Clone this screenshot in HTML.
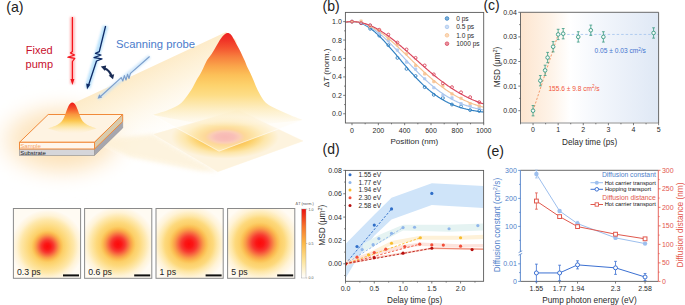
<!DOCTYPE html><html><head><meta charset="utf-8"><style>html,body{margin:0;padding:0;background:#fff;width:685px;height:305px;overflow:hidden}svg{display:block;font-family:"Liberation Sans",sans-serif}</style></head><body><svg width="685" height="305" viewBox="0 0 685 305" font-family='"Liberation Sans", sans-serif'>
<rect width="685" height="305" fill="#fff"/>
<defs>
<radialGradient id="glow" cx="0.5" cy="0.5" r="0.5"><stop offset="0" stop-color="#fcdca8" stop-opacity="1"/><stop offset="0.6" stop-color="#fde6c2" stop-opacity="0.85"/><stop offset="1" stop-color="#fff" stop-opacity="0"/></radialGradient>
<linearGradient id="beam" gradientUnits="userSpaceOnUse" x1="150" y1="67" x2="185" y2="140"><stop offset="0" stop-color="#fdebc8" stop-opacity="1"/><stop offset="0.3" stop-color="#fef3dc" stop-opacity="0.9"/><stop offset="1" stop-color="#fff" stop-opacity="0"/></linearGradient>
<linearGradient id="peak" gradientUnits="userSpaceOnUse" x1="0" y1="33" x2="0" y2="127"><stop offset="0.000" stop-color="#ee2220" stop-opacity="1"/><stop offset="0.074" stop-color="#f03326" stop-opacity="1"/><stop offset="0.160" stop-color="#f45430" stop-opacity="1"/><stop offset="0.255" stop-color="#f7803e" stop-opacity="1"/><stop offset="0.351" stop-color="#faa44a" stop-opacity="1"/><stop offset="0.447" stop-color="#fcc058" stop-opacity="1"/><stop offset="0.553" stop-color="#fdd26c" stop-opacity="1"/><stop offset="0.660" stop-color="#fddd86" stop-opacity="1"/><stop offset="0.766" stop-color="#fde8ae" stop-opacity="0.95"/><stop offset="0.872" stop-color="#fdf0cc" stop-opacity="0.7"/><stop offset="1.000" stop-color="#fef6e4" stop-opacity="0"/></linearGradient>
<linearGradient id="speak" gradientUnits="userSpaceOnUse" x1="0" y1="102.4" x2="0" y2="134"><stop offset="0" stop-color="#ee1818"/><stop offset="0.18" stop-color="#f44c28"/><stop offset="0.38" stop-color="#f9963e"/><stop offset="0.58" stop-color="#fcc64e"/><stop offset="0.74" stop-color="#fde08e" stop-opacity="0.9"/><stop offset="1" stop-color="#fef0d2" stop-opacity="0"/></linearGradient>
<radialGradient id="proj" gradientUnits="userSpaceOnUse" cx="225" cy="137" r="54" gradientTransform="translate(225 137) scale(1 0.4) translate(-225 -137)"><stop offset="0" stop-color="#f28484"/><stop offset="0.17" stop-color="#f48e8a"/><stop offset="0.27" stop-color="#f8a888"/><stop offset="0.37" stop-color="#fbbc52"/><stop offset="0.52" stop-color="#fcd068"/><stop offset="0.74" stop-color="#fde6aa"/><stop offset="1" stop-color="#fdf3de"/></radialGradient>
<filter id="blur2" x="-20%" y="-20%" width="140%" height="140%"><feGaussianBlur stdDeviation="2"/></filter>
<filter id="blur8" x="-50%" y="-50%" width="200%" height="200%"><feGaussianBlur stdDeviation="8"/></filter>
<filter id="blur1" x="-50%" y="-50%" width="200%" height="200%"><feGaussianBlur stdDeviation="1.3"/></filter>
<clipPath id="ldiam"><polygon points="153.5,134.3 238,110 303,141 217.8,171.7"/></clipPath>
</defs>
<ellipse cx="62" cy="140" rx="78" ry="46" fill="url(#glow)" filter="url(#blur8)"/>
<polygon points="72,104 226,32 236,40 252,100 302,120 220,152 120,156 95,142" fill="url(#beam)"/>
<polygon points="96,140 153.5,134.3 217.8,171.7 200,171 130,157" fill="#fdf0d4" opacity="0.75" filter="url(#blur2)"/>
<polygon points="153.5,134.3 238,110 303,141 217.8,171.7" fill="#fdf4e2" stroke="#fffaf0" stroke-width="0.8"/>
<rect clip-path="url(#ldiam)" x="150" y="105" width="160" height="70" fill="url(#proj)"/>
<polygon points="153,115 226,100 302.6,120 219,151.2" fill="#fffaf0" opacity="0.45"/>
<polyline points="153,115 219,151.2 302.6,120" fill="none" stroke="#fff" stroke-width="0.8" opacity="0.7"/>
<path d="M153,115 C155.5,114.2 163.7,111.7 168,110 C172.3,108.3 175.9,106.7 178.6,105 C181.3,103.3 181.9,102.5 184,100 C186.1,97.5 189.1,93.3 191.2,90 C193.3,86.7 195.1,82.6 196.6,80 C198.1,77.4 198.9,76.5 200,74.5 C201.1,72.5 202.1,70.4 203.3,68 C204.5,65.6 205.7,62.3 207.1,60 C208.5,57.7 210.2,56.1 211.6,54 C213.0,51.9 214.3,49.6 215.5,47.5 C216.7,45.4 217.8,43.4 219,41.5 C220.2,39.6 221.3,37.6 222.6,36.2 C223.9,34.8 225.6,33.3 227,33 C228.4,32.7 229.6,33.3 230.8,34.4 C232.0,35.5 233.0,37.8 234,39.5 C235.0,41.2 235.7,42.8 236.6,44.4 C237.5,46.0 238.6,47.8 239.4,49.4 C240.2,51.0 240.9,52.4 241.7,54.2 C242.5,56.0 243.4,57.8 244.4,60 C245.4,62.2 246.6,65.5 247.4,67.3 C248.2,69.1 248.3,68.9 249.3,71 C250.3,73.1 252.0,76.8 253.4,80 C254.8,83.2 255.9,86.7 257.6,90 C259.3,93.3 261.5,97.5 263.4,100 C265.3,102.5 266.2,103.3 268.8,105 C271.4,106.7 275.2,108.3 278.7,110 C282.2,111.7 286.0,113.3 290,115 C294.0,116.7 300.5,119.2 302.6,120 C275,123 250,126 225,127 C200,124 175,119 153,115 Z" fill="url(#peak)"/>
<polygon points="19.5,142.3 48.2,114.5 122.7,114.5 94.5,142.3" fill="#fef3e2" stroke="#f08a3a" stroke-width="1"/>
<polygon points="94.5,149 122.7,121.5 122.7,128 94.5,155.5" fill="#a6a6ae" stroke="#8a8a90" stroke-width="0.5"/>
<polygon points="94.5,142.3 122.7,114.5 122.7,121.5 94.5,149" fill="#d8cbad" stroke="#f08a3a" stroke-width="1"/>
<rect x="19.5" y="149" width="75" height="6.5" fill="#d6d6da" stroke="#8a8a8a" stroke-width="0.6"/>
<rect x="19.5" y="142.3" width="75" height="6.7" fill="#fff6ec" stroke="#f08a3a" stroke-width="1"/>
<text x="20.2" y="147.9" font-size="6.1" fill="#f6a464" text-anchor="start" >Sample</text>
<text x="20.2" y="154.5" font-size="6.0" fill="#1a1a1a" text-anchor="start" >Substrate</text>
<path d="M48,128.5 C49.3,128.0 53.8,126.6 56,125.5 C58.2,124.4 59.8,123.2 61,122 C62.2,120.8 62.8,119.8 63.5,118.5 C64.2,117.2 64.7,115.9 65.2,114.5 C65.8,113.1 66.2,111.4 66.8,110 C67.3,108.6 67.9,107.1 68.5,106 C69.1,104.9 69.7,104.0 70.3,103.4 C70.9,102.8 71.6,102.4 72.3,102.4 C73.0,102.4 73.7,102.8 74.3,103.4 C74.9,104.0 75.5,104.9 76.1,106 C76.7,107.1 77.2,108.6 77.8,110 C78.3,111.4 78.9,113.1 79.4,114.5 C80.0,115.9 80.4,117.2 81.1,118.5 C81.8,119.8 82.3,120.8 83.6,122 C84.8,123.2 86.4,124.4 88.6,125.5 C90.8,126.6 95.3,128.0 96.6,128.5 L72.3,136 Z" fill="url(#speak)"/>
<rect x="70" y="17" width="4.8" height="67" fill="#ff8080" opacity="0.55" filter="url(#blur1)"/>
<polyline points="72.4,17 72.4,51.5 70.4,53 74.6,55 67.8,57.2 74.8,58.4 72.4,61.5 72.4,80" fill="none" stroke="#f5121a" stroke-width="1.2" stroke-linejoin="round"/>
<polygon points="70.4,79 74.4,79 72.4,85" fill="#f0141c"/>
<text x="25.8" y="54.4" font-size="11" fill="#c8102e" text-anchor="start" >Fixed</text>
<text x="25.6" y="68.4" font-size="11" fill="#c8102e" text-anchor="start" >pump</text>
<line x1="105.6" y1="26" x2="87.5" y2="88" stroke="#8fd0fa" stroke-width="5.5" opacity="0.6" filter="url(#blur1)"/>
<polyline points="105.6,26 99.3,51.6 95.5,53.4 101,55 94,57.6 102,58.8 96.5,61 88.6,85" fill="none" stroke="#0e2a66" stroke-width="1.3" stroke-linejoin="round"/>
<polygon points="86.2,83.4 90.4,84.6 87,89.6" fill="#0e2a66"/>
<path d="M104,68.2 Q109.8,70.2 111.2,75.6" fill="none" stroke="#1a2c55" stroke-width="2.2"/>
<polygon points="100.8,66.6 106.2,65.4 105,71" fill="#1a2c55"/>
<polygon points="113,79.2 108.6,75.4 114.2,74.2" fill="#1a2c55"/>
<line x1="149.6" y1="56.5" x2="98" y2="98.5" stroke="#c4e2fa" stroke-width="4" opacity="0.75" filter="url(#blur1)"/>
<polyline points="149.6,56.5 130.4,73.4 129,78.5 127.6,74.2 126,80 124.4,75.6 122.8,81 121.2,77.6 100.5,96.5" fill="none" stroke="#7c9ecb" stroke-width="1.15" stroke-linejoin="round"/>
<polygon points="97.6,98.8 99.2,94.2 102.2,97.4" fill="#7c9ecb"/>
<text x="116" y="48" font-size="11.3" fill="#4b7ccb" text-anchor="start" >Scanning probe</text>
<text x="6.2" y="11.9" font-size="14.2" fill="#222" text-anchor="start" >(a)</text>
<defs>
<radialGradient id="hm0" cx="0.5" cy="0.5" r="0.5"><stop offset="0.000" stop-color="#fd0a0a"/><stop offset="0.086" stop-color="#fb1616"/><stop offset="0.172" stop-color="#f73a30"/><stop offset="0.241" stop-color="#f76a40"/><stop offset="0.310" stop-color="#f99a48"/><stop offset="0.378" stop-color="#fbbd52"/><stop offset="0.439" stop-color="#fccf68"/><stop offset="0.533" stop-color="#fdd97c"/><stop offset="0.72" stop-color="#fee7a8"/><stop offset="0.85" stop-color="#fff3d6"/><stop offset="1" stop-color="#fffaf2"/></radialGradient>
<radialGradient id="hm1" cx="0.5" cy="0.5" r="0.5"><stop offset="0.000" stop-color="#fd0a0a"/><stop offset="0.093" stop-color="#fb1616"/><stop offset="0.186" stop-color="#f73a30"/><stop offset="0.260" stop-color="#f76a40"/><stop offset="0.335" stop-color="#f99a48"/><stop offset="0.409" stop-color="#fbbd52"/><stop offset="0.474" stop-color="#fccf68"/><stop offset="0.577" stop-color="#fdd97c"/><stop offset="0.72" stop-color="#fee7a8"/><stop offset="0.85" stop-color="#fff3d6"/><stop offset="1" stop-color="#fffaf2"/></radialGradient>
<radialGradient id="hm2" cx="0.5" cy="0.5" r="0.5"><stop offset="0.000" stop-color="#fd0a0a"/><stop offset="0.100" stop-color="#fb1616"/><stop offset="0.200" stop-color="#f73a30"/><stop offset="0.280" stop-color="#f76a40"/><stop offset="0.360" stop-color="#f99a48"/><stop offset="0.440" stop-color="#fbbd52"/><stop offset="0.510" stop-color="#fccf68"/><stop offset="0.620" stop-color="#fdd97c"/><stop offset="0.72" stop-color="#fee7a8"/><stop offset="0.85" stop-color="#fff3d6"/><stop offset="1" stop-color="#fffaf2"/></radialGradient>
<radialGradient id="hm3" cx="0.5" cy="0.5" r="0.5"><stop offset="0.000" stop-color="#fd0a0a"/><stop offset="0.100" stop-color="#fb1616"/><stop offset="0.200" stop-color="#f73a30"/><stop offset="0.280" stop-color="#f76a40"/><stop offset="0.360" stop-color="#f99a48"/><stop offset="0.440" stop-color="#fbbd52"/><stop offset="0.510" stop-color="#fccf68"/><stop offset="0.620" stop-color="#fdd97c"/><stop offset="0.72" stop-color="#fee7a8"/><stop offset="0.85" stop-color="#fff3d6"/><stop offset="1" stop-color="#fffaf2"/></radialGradient>
<linearGradient id="cbar" x1="0" x2="0" y1="1" y2="0"><stop offset="0" stop-color="#ffffff"/><stop offset="0.25" stop-color="#fde49a"/><stop offset="0.5" stop-color="#fcb948"/><stop offset="0.75" stop-color="#f6742c"/><stop offset="1" stop-color="#ea1010"/></linearGradient>
</defs>
<clipPath id="tc0"><rect x="13.4" y="208.5" width="67.2" height="69.8"/></clipPath>
<rect x="13.4" y="208.5" width="67.2" height="69.8" fill="#fffbf3"/>
<circle clip-path="url(#tc0)" cx="47.4" cy="246.4" r="36.5" fill="url(#hm0)"/>
<rect x="13.4" y="208.5" width="67.2" height="69.8" fill="none" stroke="#8a8a8a" stroke-width="1"/>
<text x="17" y="275.3" font-size="8.7" fill="#222" text-anchor="start" >0.3 ps</text>
<rect x="63.0" y="274.4" width="16" height="2" fill="#111"/>
<clipPath id="tc1"><rect x="84.6" y="208.5" width="67.2" height="69.8"/></clipPath>
<rect x="84.6" y="208.5" width="67.2" height="69.8" fill="#fffbf3"/>
<circle clip-path="url(#tc1)" cx="118" cy="244.2" r="37.5" fill="url(#hm1)"/>
<rect x="84.6" y="208.5" width="67.2" height="69.8" fill="none" stroke="#8a8a8a" stroke-width="1"/>
<text x="88.2" y="275.3" font-size="8.7" fill="#222" text-anchor="start" >0.6 ps</text>
<rect x="134.2" y="274.4" width="16" height="2" fill="#111"/>
<clipPath id="tc2"><rect x="156.0" y="208.5" width="67.2" height="69.8"/></clipPath>
<rect x="156.0" y="208.5" width="67.2" height="69.8" fill="#fffbf3"/>
<circle clip-path="url(#tc2)" cx="189" cy="244" r="39" fill="url(#hm2)"/>
<rect x="156.0" y="208.5" width="67.2" height="69.8" fill="none" stroke="#8a8a8a" stroke-width="1"/>
<text x="159.6" y="275.3" font-size="8.7" fill="#222" text-anchor="start" >1 ps</text>
<rect x="205.6" y="274.4" width="16" height="2" fill="#111"/>
<clipPath id="tc3"><rect x="227.6" y="208.5" width="67.2" height="69.8"/></clipPath>
<rect x="227.6" y="208.5" width="67.2" height="69.8" fill="#fffbf3"/>
<circle clip-path="url(#tc3)" cx="260" cy="243" r="40" fill="url(#hm3)"/>
<rect x="227.6" y="208.5" width="67.2" height="69.8" fill="none" stroke="#8a8a8a" stroke-width="1"/>
<text x="231.2" y="275.3" font-size="8.7" fill="#222" text-anchor="start" >5 ps</text>
<rect x="277.2" y="274.4" width="16" height="2" fill="#111"/>
<rect x="301.6" y="209" width="4.4" height="69" fill="url(#cbar)" stroke="#999" stroke-width="0.4"/>
<line x1="306" y1="209.2" x2="307.3" y2="209.2" stroke="#777" stroke-width="0.4"/>
<text x="308.5" y="210.5" font-size="3.6" fill="#555" text-anchor="start" >1.0</text>
<line x1="306" y1="243.5" x2="307.3" y2="243.5" stroke="#777" stroke-width="0.4"/>
<text x="308.5" y="244.8" font-size="3.6" fill="#555" text-anchor="start" >0.5</text>
<line x1="306" y1="278" x2="307.3" y2="278" stroke="#777" stroke-width="0.4"/>
<text x="308.5" y="279.3" font-size="3.6" fill="#555" text-anchor="start" >0.0</text>
<text x="295.6" y="205.2" font-size="3.8" fill="#555" text-anchor="start" >&#916;T (norm.)</text>
<g>
<polyline points="345.4,22.53 346.06,22.35 346.72,22.2 347.38,22.06 348.03,21.95 348.69,21.84 349.35,21.76 350.01,21.7 350.67,21.65 351.33,21.63 351.99,21.62 352.64,21.63 353.3,21.65 353.96,21.7 354.62,21.76 355.28,21.84 355.94,21.95 356.6,22.06 357.25,22.2 357.91,22.35 358.57,22.53 359.23,22.72 359.89,22.92 360.55,23.15 361.21,23.39 361.86,23.65 362.52,23.93 363.18,24.22 363.84,24.53 364.5,24.86 365.16,25.2 365.82,25.56 366.47,25.94 367.13,26.33 367.79,26.73 368.45,27.16 369.11,27.59 369.77,28.05 370.43,28.51 371.08,28.99 371.74,29.49 372.4,30 373.06,30.52 373.72,31.05 374.38,31.6 375.04,32.16 375.69,32.73 376.35,33.32 377.01,33.92 377.67,34.52 378.33,35.14 378.99,35.77 379.65,36.41 380.3,37.06 380.96,37.72 381.62,38.39 382.28,39.07 382.94,39.75 383.6,40.45 384.26,41.15 384.91,41.86 385.57,42.57 386.23,43.3 386.89,44.03 387.55,44.77 388.21,45.51 388.87,46.25 389.52,47.01 390.18,47.76 390.84,48.53 391.5,49.29 392.16,50.06 392.82,50.83 393.48,51.61 394.13,52.39 394.79,53.17 395.45,53.95 396.11,54.74 396.77,55.52 397.43,56.31 398.09,57.09 398.74,57.88 399.4,58.67 400.06,59.46 400.72,60.24 401.38,61.03 402.04,61.81 402.7,62.59 403.35,63.38 404.01,64.15 404.67,64.93 405.33,65.7 405.99,66.48 406.65,67.24 407.31,68.01 407.96,68.77 408.62,69.53 409.28,70.28 409.94,71.03 410.6,71.77 411.26,72.51 411.92,73.25 412.57,73.97 413.23,74.7 413.89,75.42 414.55,76.13 415.21,76.84 415.87,77.54 416.53,78.23 417.18,78.92 417.84,79.6 418.5,80.27 419.16,80.94 419.82,81.6 420.48,82.26 421.14,82.9 421.79,83.54 422.45,84.18 423.11,84.8 423.77,85.42 424.43,86.03 425.09,86.63 425.75,87.22 426.4,87.81 427.06,88.39 427.72,88.96 428.38,89.52 429.04,90.07 429.7,90.62 430.36,91.16 431.01,91.69 431.67,92.21 432.33,92.72 432.99,93.23 433.65,93.73 434.31,94.22 434.97,94.7 435.62,95.17 436.28,95.64 436.94,96.09 437.6,96.54 438.26,96.98 438.92,97.41 439.58,97.84 440.23,98.26 440.89,98.66 441.55,99.07 442.21,99.46 442.87,99.84 443.53,100.22 444.19,100.59 444.84,100.95 445.5,101.31 446.16,101.66 446.82,102 447.48,102.33 448.14,102.66 448.8,102.98 449.45,103.29 450.11,103.59 450.77,103.89 451.43,104.18 452.09,104.46 452.75,104.74 453.41,105.01 454.06,105.28 454.72,105.54 455.38,105.79 456.04,106.03 456.7,106.27 457.36,106.51 458.02,106.74 458.67,106.96 459.33,107.18 459.99,107.39 460.65,107.59 461.31,107.79 461.97,107.99 462.63,108.18 463.28,108.36 463.94,108.54 464.6,108.71 465.26,108.88 465.92,109.05 466.58,109.21 467.24,109.36 467.89,109.52 468.55,109.66 469.21,109.8 469.87,109.94 470.53,110.08 471.19,110.21 471.85,110.33 472.5,110.46 473.16,110.58 473.82,110.69 474.48,110.8 475.14,110.91 475.8,111.02 476.46,111.12 477.11,111.22 477.77,111.31 478.43,111.4 479.09,111.49 479.75,111.58 480.41,111.66 481.07,111.74 481.72,111.82 482.38,111.9 483.04,111.97 483.7,112.04" fill="none" stroke="#2f7fc1" stroke-width="1.15"/>
<polyline points="345.4,22.35 346.06,22.21 346.72,22.09 347.38,21.98 348.03,21.88 348.69,21.8 349.35,21.73 350.01,21.68 350.67,21.65 351.33,21.62 351.99,21.62 352.64,21.62 353.3,21.65 353.96,21.68 354.62,21.73 355.28,21.8 355.94,21.88 356.6,21.98 357.25,22.09 357.91,22.21 358.57,22.35 359.23,22.51 359.89,22.67 360.55,22.86 361.21,23.05 361.86,23.26 362.52,23.49 363.18,23.73 363.84,23.98 364.5,24.24 365.16,24.52 365.82,24.82 366.47,25.12 367.13,25.44 367.79,25.77 368.45,26.12 369.11,26.48 369.77,26.85 370.43,27.23 371.08,27.62 371.74,28.03 372.4,28.45 373.06,28.88 373.72,29.32 374.38,29.77 375.04,30.23 375.69,30.71 376.35,31.19 377.01,31.69 377.67,32.19 378.33,32.71 378.99,33.23 379.65,33.76 380.3,34.31 380.96,34.86 381.62,35.42 382.28,35.99 382.94,36.57 383.6,37.15 384.26,37.74 384.91,38.35 385.57,38.95 386.23,39.57 386.89,40.19 387.55,40.82 388.21,41.45 388.87,42.09 389.52,42.74 390.18,43.39 390.84,44.05 391.5,44.71 392.16,45.38 392.82,46.05 393.48,46.72 394.13,47.4 394.79,48.08 395.45,48.77 396.11,49.46 396.77,50.15 397.43,50.84 398.09,51.54 398.74,52.24 399.4,52.94 400.06,53.64 400.72,54.35 401.38,55.05 402.04,55.76 402.7,56.47 403.35,57.17 404.01,57.88 404.67,58.59 405.33,59.3 405.99,60 406.65,60.71 407.31,61.41 407.96,62.12 408.62,62.82 409.28,63.52 409.94,64.22 410.6,64.92 411.26,65.62 411.92,66.31 412.57,67 413.23,67.69 413.89,68.37 414.55,69.06 415.21,69.74 415.87,70.41 416.53,71.08 417.18,71.75 417.84,72.42 418.5,73.08 419.16,73.74 419.82,74.39 420.48,75.04 421.14,75.68 421.79,76.32 422.45,76.95 423.11,77.58 423.77,78.2 424.43,78.82 425.09,79.44 425.75,80.05 426.4,80.65 427.06,81.24 427.72,81.84 428.38,82.42 429.04,83 429.7,83.58 430.36,84.14 431.01,84.71 431.67,85.26 432.33,85.81 432.99,86.36 433.65,86.89 434.31,87.42 434.97,87.95 435.62,88.47 436.28,88.98 436.94,89.49 437.6,89.98 438.26,90.48 438.92,90.96 439.58,91.44 440.23,91.91 440.89,92.38 441.55,92.84 442.21,93.29 442.87,93.74 443.53,94.18 444.19,94.61 444.84,95.04 445.5,95.46 446.16,95.87 446.82,96.28 447.48,96.68 448.14,97.08 448.8,97.46 449.45,97.84 450.11,98.22 450.77,98.59 451.43,98.95 452.09,99.31 452.75,99.66 453.41,100 454.06,100.34 454.72,100.67 455.38,100.99 456.04,101.31 456.7,101.62 457.36,101.93 458.02,102.23 458.67,102.53 459.33,102.81 459.99,103.1 460.65,103.38 461.31,103.65 461.97,103.92 462.63,104.18 463.28,104.43 463.94,104.68 464.6,104.93 465.26,105.17 465.92,105.4 466.58,105.63 467.24,105.86 467.89,106.08 468.55,106.29 469.21,106.5 469.87,106.71 470.53,106.91 471.19,107.1 471.85,107.3 472.5,107.48 473.16,107.67 473.82,107.84 474.48,108.02 475.14,108.19 475.8,108.35 476.46,108.51 477.11,108.67 477.77,108.83 478.43,108.98 479.09,109.12 479.75,109.26 480.41,109.4 481.07,109.54 481.72,109.67 482.38,109.8 483.04,109.92 483.7,110.04" fill="none" stroke="#a9c6ee" stroke-width="1.15"/>
<polyline points="345.4,22.22 346.06,22.11 346.72,22.01 347.38,21.91 348.03,21.84 348.69,21.77 349.35,21.71 350.01,21.67 350.67,21.64 351.33,21.62 351.99,21.62 352.64,21.62 353.3,21.64 353.96,21.67 354.62,21.71 355.28,21.77 355.94,21.84 356.6,21.91 357.25,22.01 357.91,22.11 358.57,22.22 359.23,22.35 359.89,22.49 360.55,22.64 361.21,22.8 361.86,22.98 362.52,23.16 363.18,23.36 363.84,23.57 364.5,23.79 365.16,24.02 365.82,24.26 366.47,24.52 367.13,24.78 367.79,25.06 368.45,25.34 369.11,25.64 369.77,25.95 370.43,26.27 371.08,26.6 371.74,26.94 372.4,27.29 373.06,27.65 373.72,28.01 374.38,28.39 375.04,28.78 375.69,29.18 376.35,29.59 377.01,30 377.67,30.43 378.33,30.86 378.99,31.3 379.65,31.75 380.3,32.21 380.96,32.68 381.62,33.16 382.28,33.64 382.94,34.13 383.6,34.63 384.26,35.13 384.91,35.65 385.57,36.17 386.23,36.69 386.89,37.23 387.55,37.77 388.21,38.31 388.87,38.86 389.52,39.42 390.18,39.98 390.84,40.55 391.5,41.12 392.16,41.7 392.82,42.29 393.48,42.87 394.13,43.47 394.79,44.06 395.45,44.66 396.11,45.27 396.77,45.88 397.43,46.49 398.09,47.1 398.74,47.72 399.4,48.34 400.06,48.97 400.72,49.59 401.38,50.22 402.04,50.85 402.7,51.48 403.35,52.12 404.01,52.76 404.67,53.39 405.33,54.03 405.99,54.67 406.65,55.31 407.31,55.95 407.96,56.6 408.62,57.24 409.28,57.88 409.94,58.52 410.6,59.17 411.26,59.81 411.92,60.45 412.57,61.09 413.23,61.73 413.89,62.37 414.55,63.01 415.21,63.64 415.87,64.28 416.53,64.91 417.18,65.54 417.84,66.17 418.5,66.8 419.16,67.43 419.82,68.05 420.48,68.67 421.14,69.29 421.79,69.91 422.45,70.52 423.11,71.13 423.77,71.74 424.43,72.34 425.09,72.94 425.75,73.54 426.4,74.13 427.06,74.72 427.72,75.31 428.38,75.89 429.04,76.47 429.7,77.05 430.36,77.62 431.01,78.18 431.67,78.75 432.33,79.3 432.99,79.86 433.65,80.41 434.31,80.95 434.97,81.49 435.62,82.03 436.28,82.56 436.94,83.08 437.6,83.6 438.26,84.12 438.92,84.63 439.58,85.14 440.23,85.64 440.89,86.13 441.55,86.62 442.21,87.11 442.87,87.59 443.53,88.06 444.19,88.53 444.84,89 445.5,89.46 446.16,89.91 446.82,90.36 447.48,90.8 448.14,91.24 448.8,91.67 449.45,92.1 450.11,92.52 450.77,92.94 451.43,93.35 452.09,93.75 452.75,94.15 453.41,94.54 454.06,94.93 454.72,95.32 455.38,95.69 456.04,96.07 456.7,96.43 457.36,96.8 458.02,97.15 458.67,97.5 459.33,97.85 459.99,98.19 460.65,98.52 461.31,98.85 461.97,99.18 462.63,99.5 463.28,99.81 463.94,100.12 464.6,100.43 465.26,100.73 465.92,101.02 466.58,101.31 467.24,101.59 467.89,101.87 468.55,102.15 469.21,102.42 469.87,102.68 470.53,102.94 471.19,103.2 471.85,103.45 472.5,103.7 473.16,103.94 473.82,104.17 474.48,104.41 475.14,104.63 475.8,104.86 476.46,105.08 477.11,105.29 477.77,105.5 478.43,105.71 479.09,105.91 479.75,106.11 480.41,106.31 481.07,106.5 481.72,106.68 482.38,106.87 483.04,107.05 483.7,107.22" fill="none" stroke="#f7c18f" stroke-width="1.15"/>
<polyline points="345.4,22.13 346.06,22.03 346.72,21.95 347.38,21.87 348.03,21.8 348.69,21.75 349.35,21.7 350.01,21.66 350.67,21.64 351.33,21.62 351.99,21.62 352.64,21.62 353.3,21.64 353.96,21.66 354.62,21.7 355.28,21.75 355.94,21.8 356.6,21.87 357.25,21.95 357.91,22.03 358.57,22.13 359.23,22.24 359.89,22.36 360.55,22.49 361.21,22.62 361.86,22.77 362.52,22.93 363.18,23.1 363.84,23.28 364.5,23.46 365.16,23.66 365.82,23.87 366.47,24.09 367.13,24.31 367.79,24.55 368.45,24.79 369.11,25.05 369.77,25.31 370.43,25.58 371.08,25.86 371.74,26.16 372.4,26.45 373.06,26.76 373.72,27.08 374.38,27.4 375.04,27.74 375.69,28.08 376.35,28.43 377.01,28.79 377.67,29.16 378.33,29.53 378.99,29.91 379.65,30.3 380.3,30.7 380.96,31.1 381.62,31.52 382.28,31.93 382.94,32.36 383.6,32.79 384.26,33.23 384.91,33.68 385.57,34.13 386.23,34.59 386.89,35.06 387.55,35.53 388.21,36 388.87,36.49 389.52,36.98 390.18,37.47 390.84,37.97 391.5,38.47 392.16,38.98 392.82,39.5 393.48,40.02 394.13,40.54 394.79,41.07 395.45,41.6 396.11,42.14 396.77,42.68 397.43,43.22 398.09,43.77 398.74,44.32 399.4,44.88 400.06,45.44 400.72,46 401.38,46.56 402.04,47.13 402.7,47.7 403.35,48.27 404.01,48.85 404.67,49.42 405.33,50 405.99,50.58 406.65,51.16 407.31,51.75 407.96,52.33 408.62,52.92 409.28,53.51 409.94,54.1 410.6,54.69 411.26,55.28 411.92,55.87 412.57,56.46 413.23,57.05 413.89,57.64 414.55,58.24 415.21,58.83 415.87,59.42 416.53,60.01 417.18,60.6 417.84,61.19 418.5,61.78 419.16,62.37 419.82,62.96 420.48,63.55 421.14,64.13 421.79,64.72 422.45,65.3 423.11,65.88 423.77,66.46 424.43,67.04 425.09,67.62 425.75,68.19 426.4,68.76 427.06,69.33 427.72,69.9 428.38,70.46 429.04,71.03 429.7,71.59 430.36,72.14 431.01,72.7 431.67,73.25 432.33,73.8 432.99,74.35 433.65,74.89 434.31,75.43 434.97,75.96 435.62,76.5 436.28,77.03 436.94,77.55 437.6,78.08 438.26,78.59 438.92,79.11 439.58,79.62 440.23,80.13 440.89,80.63 441.55,81.13 442.21,81.63 442.87,82.12 443.53,82.61 444.19,83.1 444.84,83.58 445.5,84.05 446.16,84.52 446.82,84.99 447.48,85.45 448.14,85.91 448.8,86.37 449.45,86.82 450.11,87.26 450.77,87.7 451.43,88.14 452.09,88.57 452.75,89 453.41,89.42 454.06,89.84 454.72,90.26 455.38,90.67 456.04,91.07 456.7,91.47 457.36,91.87 458.02,92.26 458.67,92.64 459.33,93.03 459.99,93.4 460.65,93.78 461.31,94.15 461.97,94.51 462.63,94.87 463.28,95.22 463.94,95.57 464.6,95.92 465.26,96.26 465.92,96.59 466.58,96.92 467.24,97.25 467.89,97.57 468.55,97.89 469.21,98.21 469.87,98.51 470.53,98.82 471.19,99.12 471.85,99.41 472.5,99.71 473.16,99.99 473.82,100.28 474.48,100.55 475.14,100.83 475.8,101.1 476.46,101.36 477.11,101.62 477.77,101.88 478.43,102.13 479.09,102.38 479.75,102.63 480.41,102.87 481.07,103.11 481.72,103.34 482.38,103.57 483.04,103.79 483.7,104.01" fill="none" stroke="#d9475e" stroke-width="1.15"/>
<circle cx="351.99" cy="21.62" r="1.45" fill="none" stroke="#2f7fc1" stroke-width="0.9"/>
<circle cx="361.07" cy="23.18" r="1.45" fill="none" stroke="#2f7fc1" stroke-width="0.9"/>
<circle cx="370.16" cy="28.8" r="1.45" fill="none" stroke="#2f7fc1" stroke-width="0.9"/>
<circle cx="379.25" cy="35.64" r="1.45" fill="none" stroke="#2f7fc1" stroke-width="0.9"/>
<circle cx="388.34" cy="45.19" r="1.45" fill="none" stroke="#2f7fc1" stroke-width="0.9"/>
<circle cx="397.43" cy="57.91" r="1.45" fill="none" stroke="#2f7fc1" stroke-width="0.9"/>
<circle cx="406.52" cy="68.89" r="1.45" fill="none" stroke="#2f7fc1" stroke-width="0.9"/>
<circle cx="415.6" cy="76.01" r="1.45" fill="none" stroke="#2f7fc1" stroke-width="0.9"/>
<circle cx="424.69" cy="87.16" r="1.45" fill="none" stroke="#2f7fc1" stroke-width="0.9"/>
<circle cx="433.78" cy="94.81" r="1.45" fill="none" stroke="#2f7fc1" stroke-width="0.9"/>
<circle cx="442.87" cy="98.02" r="1.45" fill="none" stroke="#2f7fc1" stroke-width="0.9"/>
<circle cx="451.96" cy="104.52" r="1.45" fill="none" stroke="#2f7fc1" stroke-width="0.9"/>
<circle cx="461.05" cy="106.47" r="1.45" fill="none" stroke="#2f7fc1" stroke-width="0.9"/>
<circle cx="470.13" cy="110.08" r="1.45" fill="none" stroke="#2f7fc1" stroke-width="0.9"/>
<circle cx="479.22" cy="111" r="1.45" fill="none" stroke="#2f7fc1" stroke-width="0.9"/>
<rect x="350.39" y="20.02" width="3.2" height="3.2" rx="0.8" fill="#a9c6ee" opacity="0.85"/>
<rect x="359.47" y="20.92" width="3.2" height="3.2" rx="0.8" fill="#a9c6ee" opacity="0.85"/>
<rect x="368.56" y="24.12" width="3.2" height="3.2" rx="0.8" fill="#a9c6ee" opacity="0.85"/>
<rect x="377.65" y="31.76" width="3.2" height="3.2" rx="0.8" fill="#a9c6ee" opacity="0.85"/>
<rect x="386.74" y="39.09" width="3.2" height="3.2" rx="0.8" fill="#a9c6ee" opacity="0.85"/>
<rect x="395.83" y="48.61" width="3.2" height="3.2" rx="0.8" fill="#a9c6ee" opacity="0.85"/>
<rect x="404.92" y="60.58" width="3.2" height="3.2" rx="0.8" fill="#a9c6ee" opacity="0.85"/>
<rect x="414" y="67.59" width="3.2" height="3.2" rx="0.8" fill="#a9c6ee" opacity="0.85"/>
<rect x="423.09" y="77.13" width="3.2" height="3.2" rx="0.8" fill="#a9c6ee" opacity="0.85"/>
<rect x="432.18" y="86.13" width="3.2" height="3.2" rx="0.8" fill="#a9c6ee" opacity="0.85"/>
<rect x="441.27" y="93.87" width="3.2" height="3.2" rx="0.8" fill="#a9c6ee" opacity="0.85"/>
<rect x="450.36" y="96.29" width="3.2" height="3.2" rx="0.8" fill="#a9c6ee" opacity="0.85"/>
<rect x="459.45" y="102.04" width="3.2" height="3.2" rx="0.8" fill="#a9c6ee" opacity="0.85"/>
<rect x="468.53" y="104.38" width="3.2" height="3.2" rx="0.8" fill="#a9c6ee" opacity="0.85"/>
<rect x="477.62" y="106.15" width="3.2" height="3.2" rx="0.8" fill="#a9c6ee" opacity="0.85"/>
<rect x="350.39" y="20.02" width="3.2" height="3.2" rx="0.8" fill="#f7c18f" opacity="0.85"/>
<rect x="359.47" y="19.62" width="3.2" height="3.2" rx="0.8" fill="#f7c18f" opacity="0.85"/>
<rect x="368.56" y="24.93" width="3.2" height="3.2" rx="0.8" fill="#f7c18f" opacity="0.85"/>
<rect x="377.65" y="28.77" width="3.2" height="3.2" rx="0.8" fill="#f7c18f" opacity="0.85"/>
<rect x="386.74" y="37.02" width="3.2" height="3.2" rx="0.8" fill="#f7c18f" opacity="0.85"/>
<rect x="395.83" y="43.28" width="3.2" height="3.2" rx="0.8" fill="#f7c18f" opacity="0.85"/>
<rect x="404.92" y="52.19" width="3.2" height="3.2" rx="0.8" fill="#f7c18f" opacity="0.85"/>
<rect x="414" y="63.91" width="3.2" height="3.2" rx="0.8" fill="#f7c18f" opacity="0.85"/>
<rect x="423.09" y="72.32" width="3.2" height="3.2" rx="0.8" fill="#f7c18f" opacity="0.85"/>
<rect x="432.18" y="79.96" width="3.2" height="3.2" rx="0.8" fill="#f7c18f" opacity="0.85"/>
<rect x="441.27" y="84.27" width="3.2" height="3.2" rx="0.8" fill="#f7c18f" opacity="0.85"/>
<rect x="450.36" y="92.31" width="3.2" height="3.2" rx="0.8" fill="#f7c18f" opacity="0.85"/>
<rect x="459.45" y="96.66" width="3.2" height="3.2" rx="0.8" fill="#f7c18f" opacity="0.85"/>
<rect x="468.53" y="101.92" width="3.2" height="3.2" rx="0.8" fill="#f7c18f" opacity="0.85"/>
<rect x="477.62" y="104.33" width="3.2" height="3.2" rx="0.8" fill="#f7c18f" opacity="0.85"/>
<circle cx="351.99" cy="21.62" r="1.45" fill="none" stroke="#d9475e" stroke-width="0.9"/>
<circle cx="361.07" cy="23.15" r="1.45" fill="none" stroke="#d9475e" stroke-width="0.9"/>
<circle cx="370.16" cy="25.16" r="1.45" fill="none" stroke="#d9475e" stroke-width="0.9"/>
<circle cx="379.25" cy="29.76" r="1.45" fill="none" stroke="#d9475e" stroke-width="0.9"/>
<circle cx="388.34" cy="34.61" r="1.45" fill="none" stroke="#d9475e" stroke-width="0.9"/>
<circle cx="397.43" cy="42.55" r="1.45" fill="none" stroke="#d9475e" stroke-width="0.9"/>
<circle cx="406.52" cy="49.47" r="1.45" fill="none" stroke="#d9475e" stroke-width="0.9"/>
<circle cx="415.6" cy="57.87" r="1.45" fill="none" stroke="#d9475e" stroke-width="0.9"/>
<circle cx="424.69" cy="65.46" r="1.45" fill="none" stroke="#d9475e" stroke-width="0.9"/>
<circle cx="433.78" cy="74.36" r="1.45" fill="none" stroke="#d9475e" stroke-width="0.9"/>
<circle cx="442.87" cy="83.36" r="1.45" fill="none" stroke="#d9475e" stroke-width="0.9"/>
<circle cx="451.96" cy="87.16" r="1.45" fill="none" stroke="#d9475e" stroke-width="0.9"/>
<circle cx="461.05" cy="92.29" r="1.45" fill="none" stroke="#d9475e" stroke-width="0.9"/>
<circle cx="470.13" cy="97.14" r="1.45" fill="none" stroke="#d9475e" stroke-width="0.9"/>
<circle cx="479.22" cy="102.18" r="1.45" fill="none" stroke="#d9475e" stroke-width="0.9"/>
<rect x="345.4" y="12.4" width="138.3" height="110.6" fill="none" stroke="#5a5a5a" stroke-width="0.9"/>
<line x1="343.2" y1="113.78" x2="345.4" y2="113.78" stroke="#5a5a5a" stroke-width="0.8"/>
<text x="341.8" y="116.28" font-size="7" fill="#2a2a2a" text-anchor="end" >0.0</text>
<line x1="344.1" y1="104.57" x2="345.4" y2="104.57" stroke="#5a5a5a" stroke-width="0.8"/>
<line x1="343.2" y1="95.35" x2="345.4" y2="95.35" stroke="#5a5a5a" stroke-width="0.8"/>
<text x="341.8" y="97.85" font-size="7" fill="#2a2a2a" text-anchor="end" >0.2</text>
<line x1="344.1" y1="86.13" x2="345.4" y2="86.13" stroke="#5a5a5a" stroke-width="0.8"/>
<line x1="343.2" y1="76.92" x2="345.4" y2="76.92" stroke="#5a5a5a" stroke-width="0.8"/>
<text x="341.8" y="79.42" font-size="7" fill="#2a2a2a" text-anchor="end" >0.4</text>
<line x1="344.1" y1="67.7" x2="345.4" y2="67.7" stroke="#5a5a5a" stroke-width="0.8"/>
<line x1="343.2" y1="58.48" x2="345.4" y2="58.48" stroke="#5a5a5a" stroke-width="0.8"/>
<text x="341.8" y="60.98" font-size="7" fill="#2a2a2a" text-anchor="end" >0.6</text>
<line x1="344.1" y1="49.27" x2="345.4" y2="49.27" stroke="#5a5a5a" stroke-width="0.8"/>
<line x1="343.2" y1="40.05" x2="345.4" y2="40.05" stroke="#5a5a5a" stroke-width="0.8"/>
<text x="341.8" y="42.55" font-size="7" fill="#2a2a2a" text-anchor="end" >0.8</text>
<line x1="344.1" y1="30.83" x2="345.4" y2="30.83" stroke="#5a5a5a" stroke-width="0.8"/>
<line x1="343.2" y1="21.62" x2="345.4" y2="21.62" stroke="#5a5a5a" stroke-width="0.8"/>
<text x="341.8" y="24.12" font-size="7" fill="#2a2a2a" text-anchor="end" >1.0</text>
<line x1="351.99" y1="123.0" x2="351.99" y2="125.2" stroke="#5a5a5a" stroke-width="0.8"/>
<text x="351.99" y="132.6" font-size="7" fill="#2a2a2a" text-anchor="middle" >0</text>
<line x1="365.16" y1="123.0" x2="365.16" y2="124.3" stroke="#5a5a5a" stroke-width="0.8"/>
<line x1="378.33" y1="123.0" x2="378.33" y2="125.2" stroke="#5a5a5a" stroke-width="0.8"/>
<text x="378.33" y="132.6" font-size="7" fill="#2a2a2a" text-anchor="middle" >200</text>
<line x1="391.5" y1="123.0" x2="391.5" y2="124.3" stroke="#5a5a5a" stroke-width="0.8"/>
<line x1="404.67" y1="123.0" x2="404.67" y2="125.2" stroke="#5a5a5a" stroke-width="0.8"/>
<text x="404.67" y="132.6" font-size="7" fill="#2a2a2a" text-anchor="middle" >400</text>
<line x1="417.84" y1="123.0" x2="417.84" y2="124.3" stroke="#5a5a5a" stroke-width="0.8"/>
<line x1="431.01" y1="123.0" x2="431.01" y2="125.2" stroke="#5a5a5a" stroke-width="0.8"/>
<text x="431.01" y="132.6" font-size="7" fill="#2a2a2a" text-anchor="middle" >600</text>
<line x1="444.19" y1="123.0" x2="444.19" y2="124.3" stroke="#5a5a5a" stroke-width="0.8"/>
<line x1="457.36" y1="123.0" x2="457.36" y2="125.2" stroke="#5a5a5a" stroke-width="0.8"/>
<text x="457.36" y="132.6" font-size="7" fill="#2a2a2a" text-anchor="middle" >800</text>
<line x1="470.53" y1="123.0" x2="470.53" y2="124.3" stroke="#5a5a5a" stroke-width="0.8"/>
<line x1="483.7" y1="123.0" x2="483.7" y2="125.2" stroke="#5a5a5a" stroke-width="0.8"/>
<text x="483.7" y="132.6" font-size="7" fill="#2a2a2a" text-anchor="middle" >1000</text>
<text x="414.3" y="144.1" font-size="8.1" fill="#2a2a2a" text-anchor="middle" >Position (nm)</text>
<text transform="translate(329.2,68) rotate(-90)" font-size="8.1" fill="#2a2a2a" text-anchor="middle">&#916;<tspan font-style="italic">T</tspan> (norm.)</text>
<circle cx="447" cy="18.5" r="1.8" fill="#2f7fc1" fill-opacity="0.6" stroke="#2f7fc1" stroke-width="0.8"/>
<text x="456.2" y="20.8" font-size="6.6" fill="#2a2a2a" text-anchor="start" >0 ps</text>
<circle cx="447" cy="26.9" r="1.8" fill="#a9c6ee" fill-opacity="0.6" stroke="#a9c6ee" stroke-width="0.8"/>
<text x="456.2" y="29.2" font-size="6.6" fill="#2a2a2a" text-anchor="start" >0.5 ps</text>
<circle cx="447" cy="35.3" r="1.8" fill="#f7c18f" fill-opacity="0.6" stroke="#f7c18f" stroke-width="0.8"/>
<text x="456.2" y="37.6" font-size="6.6" fill="#2a2a2a" text-anchor="start" >1.0 ps</text>
<circle cx="447" cy="43.7" r="1.8" fill="#d9475e" fill-opacity="0.6" stroke="#d9475e" stroke-width="0.8"/>
<text x="456.2" y="46" font-size="6.6" fill="#2a2a2a" text-anchor="start" >1000 ps</text>
</g>
<defs><linearGradient id="cbg" x1="0" x2="1" y1="0" y2="0"><stop offset="0" stop-color="#fde5cf"/><stop offset="0.22" stop-color="#fef3e8"/><stop offset="0.36" stop-color="#ffffff"/><stop offset="0.55" stop-color="#f4f7fc"/><stop offset="1" stop-color="#dfe8f5"/></linearGradient></defs>
<rect x="520.5" y="12.3" width="138.1" height="110.7" fill="url(#cbg)"/>
<line x1="533.05" y1="110.7" x2="558.16" y2="34.44" stroke="#f39a6a" stroke-width="1" stroke-dasharray="2.2,1.6"/>
<line x1="558.16" y1="34.44" x2="658.6" y2="34.44" stroke="#a9c7ee" stroke-width="0.9" stroke-dasharray="2.5,2"/>
<line x1="533.05" y1="105.53" x2="533.05" y2="115.87" stroke="#3a9a82" stroke-width="0.8"/>
<line x1="531.65" y1="105.53" x2="534.45" y2="105.53" stroke="#3a9a82" stroke-width="0.8"/>
<line x1="531.65" y1="115.87" x2="534.45" y2="115.87" stroke="#3a9a82" stroke-width="0.8"/>
<circle cx="533.05" cy="110.7" r="1.8" fill="#f6fbf9" stroke="#3a9a82" stroke-width="0.9"/>
<line x1="540.34" y1="75.52" x2="540.34" y2="85.85" stroke="#3a9a82" stroke-width="0.8"/>
<line x1="538.94" y1="75.52" x2="541.74" y2="75.52" stroke="#3a9a82" stroke-width="0.8"/>
<line x1="538.94" y1="85.85" x2="541.74" y2="85.85" stroke="#3a9a82" stroke-width="0.8"/>
<circle cx="540.34" cy="80.69" r="1.8" fill="#f6fbf9" stroke="#3a9a82" stroke-width="0.9"/>
<line x1="545.11" y1="65.19" x2="545.11" y2="75.52" stroke="#3a9a82" stroke-width="0.8"/>
<line x1="543.71" y1="65.19" x2="546.51" y2="65.19" stroke="#3a9a82" stroke-width="0.8"/>
<line x1="543.71" y1="75.52" x2="546.51" y2="75.52" stroke="#3a9a82" stroke-width="0.8"/>
<circle cx="545.11" cy="70.36" r="1.8" fill="#f6fbf9" stroke="#3a9a82" stroke-width="0.9"/>
<line x1="547.62" y1="52.4" x2="547.62" y2="62.73" stroke="#3a9a82" stroke-width="0.8"/>
<line x1="546.22" y1="52.4" x2="549.02" y2="52.4" stroke="#3a9a82" stroke-width="0.8"/>
<line x1="546.22" y1="62.73" x2="549.02" y2="62.73" stroke="#3a9a82" stroke-width="0.8"/>
<circle cx="547.62" cy="57.56" r="1.8" fill="#f6fbf9" stroke="#3a9a82" stroke-width="0.9"/>
<line x1="553.14" y1="41.57" x2="553.14" y2="51.91" stroke="#3a9a82" stroke-width="0.8"/>
<line x1="551.74" y1="41.57" x2="554.54" y2="41.57" stroke="#3a9a82" stroke-width="0.8"/>
<line x1="551.74" y1="51.91" x2="554.54" y2="51.91" stroke="#3a9a82" stroke-width="0.8"/>
<circle cx="553.14" cy="46.74" r="1.8" fill="#f6fbf9" stroke="#3a9a82" stroke-width="0.9"/>
<line x1="558.16" y1="29.27" x2="558.16" y2="39.61" stroke="#3a9a82" stroke-width="0.8"/>
<line x1="556.76" y1="29.27" x2="559.56" y2="29.27" stroke="#3a9a82" stroke-width="0.8"/>
<line x1="556.76" y1="39.61" x2="559.56" y2="39.61" stroke="#3a9a82" stroke-width="0.8"/>
<circle cx="558.16" cy="34.44" r="1.8" fill="#f6fbf9" stroke="#3a9a82" stroke-width="0.9"/>
<line x1="563.19" y1="28.54" x2="563.19" y2="38.87" stroke="#3a9a82" stroke-width="0.8"/>
<line x1="561.79" y1="28.54" x2="564.59" y2="28.54" stroke="#3a9a82" stroke-width="0.8"/>
<line x1="561.79" y1="38.87" x2="564.59" y2="38.87" stroke="#3a9a82" stroke-width="0.8"/>
<circle cx="563.19" cy="33.7" r="1.8" fill="#f6fbf9" stroke="#3a9a82" stroke-width="0.9"/>
<line x1="578.25" y1="31.73" x2="578.25" y2="42.07" stroke="#3a9a82" stroke-width="0.8"/>
<line x1="576.85" y1="31.73" x2="579.65" y2="31.73" stroke="#3a9a82" stroke-width="0.8"/>
<line x1="576.85" y1="42.07" x2="579.65" y2="42.07" stroke="#3a9a82" stroke-width="0.8"/>
<circle cx="578.25" cy="36.9" r="1.8" fill="#f6fbf9" stroke="#3a9a82" stroke-width="0.9"/>
<line x1="590.81" y1="25.09" x2="590.81" y2="35.42" stroke="#3a9a82" stroke-width="0.8"/>
<line x1="589.41" y1="25.09" x2="592.21" y2="25.09" stroke="#3a9a82" stroke-width="0.8"/>
<line x1="589.41" y1="35.42" x2="592.21" y2="35.42" stroke="#3a9a82" stroke-width="0.8"/>
<circle cx="590.81" cy="30.26" r="1.8" fill="#f6fbf9" stroke="#3a9a82" stroke-width="0.9"/>
<line x1="603.36" y1="31.73" x2="603.36" y2="42.07" stroke="#3a9a82" stroke-width="0.8"/>
<line x1="601.96" y1="31.73" x2="604.76" y2="31.73" stroke="#3a9a82" stroke-width="0.8"/>
<line x1="601.96" y1="42.07" x2="604.76" y2="42.07" stroke="#3a9a82" stroke-width="0.8"/>
<circle cx="603.36" cy="36.9" r="1.8" fill="#f6fbf9" stroke="#3a9a82" stroke-width="0.9"/>
<line x1="653.58" y1="27.8" x2="653.58" y2="38.13" stroke="#3a9a82" stroke-width="0.8"/>
<line x1="652.18" y1="27.8" x2="654.98" y2="27.8" stroke="#3a9a82" stroke-width="0.8"/>
<line x1="652.18" y1="38.13" x2="654.98" y2="38.13" stroke="#3a9a82" stroke-width="0.8"/>
<circle cx="653.58" cy="32.96" r="1.8" fill="#f6fbf9" stroke="#3a9a82" stroke-width="0.9"/>
<line x1="520.5" y1="123.0" x2="658.6" y2="123.0" stroke="#b4b4b4" stroke-width="1.3"/>
<polyline points="520.5,123.0 520.5,12.3 658.6,12.3 658.6,123.0" fill="none" stroke="#5a5a5a" stroke-width="0.9"/>
<line x1="518.3" y1="110.7" x2="520.5" y2="110.7" stroke="#5a5a5a" stroke-width="0.8"/>
<text x="516.9" y="113.2" font-size="7" fill="#2a2a2a" text-anchor="end" >0.00</text>
<line x1="519.2" y1="98.4" x2="520.5" y2="98.4" stroke="#5a5a5a" stroke-width="0.8"/>
<line x1="518.3" y1="86.1" x2="520.5" y2="86.1" stroke="#5a5a5a" stroke-width="0.8"/>
<text x="516.9" y="88.6" font-size="7" fill="#2a2a2a" text-anchor="end" >0.01</text>
<line x1="519.2" y1="73.8" x2="520.5" y2="73.8" stroke="#5a5a5a" stroke-width="0.8"/>
<line x1="518.3" y1="61.5" x2="520.5" y2="61.5" stroke="#5a5a5a" stroke-width="0.8"/>
<text x="516.9" y="64" font-size="7" fill="#2a2a2a" text-anchor="end" >0.02</text>
<line x1="519.2" y1="49.2" x2="520.5" y2="49.2" stroke="#5a5a5a" stroke-width="0.8"/>
<line x1="518.3" y1="36.9" x2="520.5" y2="36.9" stroke="#5a5a5a" stroke-width="0.8"/>
<text x="516.9" y="39.4" font-size="7" fill="#2a2a2a" text-anchor="end" >0.03</text>
<line x1="519.2" y1="24.6" x2="520.5" y2="24.6" stroke="#5a5a5a" stroke-width="0.8"/>
<line x1="518.3" y1="12.3" x2="520.5" y2="12.3" stroke="#5a5a5a" stroke-width="0.8"/>
<text x="516.9" y="14.8" font-size="7" fill="#2a2a2a" text-anchor="end" >0.04</text>
<line x1="520.5" y1="123.0" x2="520.5" y2="124.3" stroke="#5a5a5a" stroke-width="0.8"/>
<line x1="533.05" y1="123.0" x2="533.05" y2="125.2" stroke="#5a5a5a" stroke-width="0.8"/>
<text x="533.05" y="132.2" font-size="7" fill="#2a2a2a" text-anchor="middle" >0</text>
<line x1="545.61" y1="123.0" x2="545.61" y2="124.3" stroke="#5a5a5a" stroke-width="0.8"/>
<line x1="558.16" y1="123.0" x2="558.16" y2="125.2" stroke="#5a5a5a" stroke-width="0.8"/>
<text x="558.16" y="132.2" font-size="7" fill="#2a2a2a" text-anchor="middle" >1</text>
<line x1="570.72" y1="123.0" x2="570.72" y2="124.3" stroke="#5a5a5a" stroke-width="0.8"/>
<line x1="583.27" y1="123.0" x2="583.27" y2="125.2" stroke="#5a5a5a" stroke-width="0.8"/>
<text x="583.27" y="132.2" font-size="7" fill="#2a2a2a" text-anchor="middle" >2</text>
<line x1="595.83" y1="123.0" x2="595.83" y2="124.3" stroke="#5a5a5a" stroke-width="0.8"/>
<line x1="608.38" y1="123.0" x2="608.38" y2="125.2" stroke="#5a5a5a" stroke-width="0.8"/>
<text x="608.38" y="132.2" font-size="7" fill="#2a2a2a" text-anchor="middle" >3</text>
<line x1="620.94" y1="123.0" x2="620.94" y2="124.3" stroke="#5a5a5a" stroke-width="0.8"/>
<line x1="633.49" y1="123.0" x2="633.49" y2="125.2" stroke="#5a5a5a" stroke-width="0.8"/>
<text x="633.49" y="132.2" font-size="7" fill="#2a2a2a" text-anchor="middle" >4</text>
<line x1="646.05" y1="123.0" x2="646.05" y2="124.3" stroke="#5a5a5a" stroke-width="0.8"/>
<line x1="658.6" y1="123.0" x2="658.6" y2="125.2" stroke="#5a5a5a" stroke-width="0.8"/>
<text x="658.6" y="132.2" font-size="7" fill="#2a2a2a" text-anchor="middle" >5</text>
<text x="589.6" y="144.6" font-size="8.2" fill="#2a2a2a" text-anchor="middle" >Delay time (ps)</text>
<text transform="translate(500.4,67) rotate(-90)" font-size="8.2" fill="#2a2a2a" text-anchor="middle">MSD (&#956;m<tspan font-size="5.5" dy="-3">2</tspan><tspan dy="3">)</tspan></text>
<text x="548.4" y="91" font-size="6.6" fill="#f0553a">155.6 &#177; 9.8 cm<tspan font-size="4.6" dy="-2.6">2</tspan><tspan dy="2.6">/s</tspan></text>
<text x="594.6" y="53.4" font-size="6.6" fill="#3f73cf">0.05 &#177; 0.03 cm<tspan font-size="4.6" dy="-2.6">2</tspan><tspan dy="2.6">/s</tspan></text>
<clipPath id="dclip"><rect x="345.5" y="170.4" width="138.1" height="110.9"/></clipPath>
<g clip-path="url(#dclip)">
<polygon points="345.5,243.94 357.01,232.27 374.27,214.76 391.53,197.72 431.81,183.24 483.6,186.04 483.6,208.11 431.81,205.07 391.53,219.43 374.27,235.77 357.01,259.12 345.5,278.26" fill="#cfe4f9" fill-opacity="1.0"/>
<polygon points="362.76,243.94 380.02,234.61 403.04,224.68 449.08,224.68 483.6,223.52 483.6,230.52 449.08,231.69 403.04,230.52 380.02,242.78 362.76,252.12" fill="#e5f3f2" fill-opacity="1.0"/>
<polygon points="345.5,260.29 368.52,252.7 391.53,241.03 420.3,235.77 460.58,235.77 483.6,234.84 483.6,239.04 460.58,239.86 420.3,239.86 391.53,245.11 368.52,256.79 345.5,266.12" fill="#fef1d8" fill-opacity="1.0"/>
<polygon points="345.5,261.45 374.27,250.95 403.04,245.11 420.3,242.54 460.58,244.18 483.6,243.94 483.6,247.21 460.58,247.45 420.3,246.05 403.04,248.61 374.27,255.03 345.5,266.12" fill="#fde3dc" fill-opacity="1.0"/>
<polygon points="345.5,262.62 374.27,256.79 403.04,252.35 431.81,247.33 483.6,248.15 483.6,250.01 431.81,249.2 403.04,254.22 374.27,258.89 345.5,264.96" fill="#fcd4c8" fill-opacity="1.0"/>
<line x1="345.5" y1="263.79" x2="391.53" y2="208.92" stroke="#2f6ec8" stroke-width="0.9" stroke-dasharray="2.4,1.6"/>
<line x1="345.5" y1="263.79" x2="403.04" y2="227.6" stroke="#8fb6ea" stroke-width="0.9" stroke-dasharray="2.4,1.6"/>
<line x1="345.5" y1="263.79" x2="420.3" y2="237.76" stroke="#f8bd2e" stroke-width="0.9" stroke-dasharray="2.4,1.6"/>
<line x1="345.5" y1="263.79" x2="419.73" y2="244.18" stroke="#f2503a" stroke-width="0.9" stroke-dasharray="2.4,1.6"/>
<line x1="345.5" y1="263.79" x2="431.81" y2="248.26" stroke="#b8100f" stroke-width="0.9" stroke-dasharray="2.4,1.6"/>
<line x1="431.81" y1="248.26" x2="483.6" y2="249.2" stroke="#e8705a" stroke-width="0.8"/>
<circle cx="345.5" cy="263.79" r="1.6" fill="#2f6ec8"/>
<circle cx="357.01" cy="246.51" r="1.6" fill="#2f6ec8"/>
<circle cx="374.27" cy="225.03" r="1.6" fill="#2f6ec8"/>
<circle cx="391.53" cy="208.92" r="1.6" fill="#2f6ec8"/>
<circle cx="431.81" cy="193.4" r="1.6" fill="#2f6ec8"/>
<circle cx="345.5" cy="263.79" r="1.6" fill="#8fb6ea"/>
<circle cx="362.19" cy="249.55" r="1.6" fill="#8fb6ea"/>
<circle cx="373.12" cy="244.64" r="1.6" fill="#8fb6ea"/>
<circle cx="378.87" cy="238.57" r="1.6" fill="#8fb6ea"/>
<circle cx="391.53" cy="233.44" r="1.6" fill="#8fb6ea"/>
<circle cx="403.04" cy="227.6" r="1.6" fill="#8fb6ea"/>
<circle cx="414.55" cy="227.25" r="1.6" fill="#8fb6ea"/>
<circle cx="449.08" cy="228.77" r="1.6" fill="#8fb6ea"/>
<circle cx="477.85" cy="225.62" r="1.6" fill="#8fb6ea"/>
<circle cx="345.5" cy="263.79" r="1.6" fill="#f8bd2e"/>
<circle cx="368.52" cy="254.8" r="1.6" fill="#f8bd2e"/>
<circle cx="391.53" cy="243.24" r="1.6" fill="#f8bd2e"/>
<circle cx="420.3" cy="237.76" r="1.6" fill="#f8bd2e"/>
<circle cx="460.58" cy="237.76" r="1.6" fill="#f8bd2e"/>
<circle cx="345.5" cy="263.79" r="1.6" fill="#f2503a"/>
<circle cx="357.01" cy="257.14" r="1.6" fill="#f2503a"/>
<circle cx="374.27" cy="252.58" r="1.6" fill="#f2503a"/>
<circle cx="385.78" cy="249.2" r="1.6" fill="#f2503a"/>
<circle cx="404.77" cy="246.51" r="1.6" fill="#f2503a"/>
<circle cx="419.73" cy="244.18" r="1.6" fill="#f2503a"/>
<circle cx="431.81" cy="244.88" r="1.6" fill="#f2503a"/>
<circle cx="443.32" cy="245.11" r="1.6" fill="#f2503a"/>
<circle cx="460.58" cy="246.16" r="1.6" fill="#f2503a"/>
<circle cx="345.5" cy="263.79" r="1.6" fill="#b8100f"/>
<circle cx="374.27" cy="257.72" r="1.6" fill="#b8100f"/>
<circle cx="403.04" cy="253.17" r="1.6" fill="#b8100f"/>
<circle cx="431.81" cy="248.26" r="1.6" fill="#b8100f"/>
<circle cx="472.09" cy="249.55" r="1.6" fill="#b8100f"/>
</g>
<rect x="345.5" y="170.4" width="138.1" height="110.9" fill="none" stroke="#5a5a5a" stroke-width="0.9"/>
<line x1="344.2" y1="275.46" x2="345.5" y2="275.46" stroke="#5a5a5a" stroke-width="0.8"/>
<line x1="343.3" y1="263.79" x2="345.5" y2="263.79" stroke="#5a5a5a" stroke-width="0.8"/>
<text x="341.9" y="266.29" font-size="7" fill="#2a2a2a" text-anchor="end" >0.00</text>
<line x1="344.2" y1="252.12" x2="345.5" y2="252.12" stroke="#5a5a5a" stroke-width="0.8"/>
<line x1="343.3" y1="240.44" x2="345.5" y2="240.44" stroke="#5a5a5a" stroke-width="0.8"/>
<text x="341.9" y="242.94" font-size="7" fill="#2a2a2a" text-anchor="end" >0.02</text>
<line x1="344.2" y1="228.77" x2="345.5" y2="228.77" stroke="#5a5a5a" stroke-width="0.8"/>
<line x1="343.3" y1="217.09" x2="345.5" y2="217.09" stroke="#5a5a5a" stroke-width="0.8"/>
<text x="341.9" y="219.59" font-size="7" fill="#2a2a2a" text-anchor="end" >0.04</text>
<line x1="344.2" y1="205.42" x2="345.5" y2="205.42" stroke="#5a5a5a" stroke-width="0.8"/>
<line x1="343.3" y1="193.75" x2="345.5" y2="193.75" stroke="#5a5a5a" stroke-width="0.8"/>
<text x="341.9" y="196.25" font-size="7" fill="#2a2a2a" text-anchor="end" >0.06</text>
<line x1="344.2" y1="182.07" x2="345.5" y2="182.07" stroke="#5a5a5a" stroke-width="0.8"/>
<line x1="343.3" y1="170.4" x2="345.5" y2="170.4" stroke="#5a5a5a" stroke-width="0.8"/>
<text x="341.9" y="172.9" font-size="7" fill="#2a2a2a" text-anchor="end" >0.08</text>
<line x1="345.5" y1="281.3" x2="345.5" y2="283.5" stroke="#5a5a5a" stroke-width="0.8"/>
<text x="345.5" y="290.5" font-size="7" fill="#2a2a2a" text-anchor="middle" >0.0</text>
<line x1="359.89" y1="281.3" x2="359.89" y2="282.6" stroke="#5a5a5a" stroke-width="0.8"/>
<line x1="374.27" y1="281.3" x2="374.27" y2="283.5" stroke="#5a5a5a" stroke-width="0.8"/>
<text x="374.27" y="290.5" font-size="7" fill="#2a2a2a" text-anchor="middle" >0.5</text>
<line x1="388.66" y1="281.3" x2="388.66" y2="282.6" stroke="#5a5a5a" stroke-width="0.8"/>
<line x1="403.04" y1="281.3" x2="403.04" y2="283.5" stroke="#5a5a5a" stroke-width="0.8"/>
<text x="403.04" y="290.5" font-size="7" fill="#2a2a2a" text-anchor="middle" >1.0</text>
<line x1="417.43" y1="281.3" x2="417.43" y2="282.6" stroke="#5a5a5a" stroke-width="0.8"/>
<line x1="431.81" y1="281.3" x2="431.81" y2="283.5" stroke="#5a5a5a" stroke-width="0.8"/>
<text x="431.81" y="290.5" font-size="7" fill="#2a2a2a" text-anchor="middle" >1.5</text>
<line x1="446.2" y1="281.3" x2="446.2" y2="282.6" stroke="#5a5a5a" stroke-width="0.8"/>
<line x1="460.58" y1="281.3" x2="460.58" y2="283.5" stroke="#5a5a5a" stroke-width="0.8"/>
<text x="460.58" y="290.5" font-size="7" fill="#2a2a2a" text-anchor="middle" >2.0</text>
<line x1="474.97" y1="281.3" x2="474.97" y2="282.6" stroke="#5a5a5a" stroke-width="0.8"/>
<text x="414.6" y="302.9" font-size="8.2" fill="#2a2a2a" text-anchor="middle" >Delay time (ps)</text>
<text transform="translate(325.3,225.2) rotate(-90)" font-size="8.3" fill="#2a2a2a" text-anchor="middle">MSD (&#956;m<tspan font-size="5.5" dy="-3">2</tspan><tspan dy="3">)</tspan></text>
<circle cx="350" cy="174.8" r="1.5" fill="#2f6ec8"/>
<text x="358.4" y="177.1" font-size="6.6" fill="#2a2a2a" text-anchor="start" >1.55 eV</text>
<circle cx="350" cy="182.45" r="1.5" fill="#8fb6ea"/>
<text x="358.4" y="184.75" font-size="6.6" fill="#2a2a2a" text-anchor="start" >1.77 eV</text>
<circle cx="350" cy="190.1" r="1.5" fill="#f8bd2e"/>
<text x="358.4" y="192.4" font-size="6.6" fill="#2a2a2a" text-anchor="start" >1.94 eV</text>
<circle cx="350" cy="197.75" r="1.5" fill="#f2503a"/>
<text x="358.4" y="200.05" font-size="6.6" fill="#2a2a2a" text-anchor="start" >2.30 eV</text>
<circle cx="350" cy="205.4" r="1.5" fill="#b8100f"/>
<text x="358.4" y="207.7" font-size="6.6" fill="#2a2a2a" text-anchor="start" >2.58 eV</text>
<line x1="520.4" y1="170.3" x2="658.3" y2="170.3" stroke="#5a5a5a" stroke-width="0.9"/>
<line x1="520.4" y1="281.4" x2="658.3" y2="281.4" stroke="#5a5a5a" stroke-width="0.9"/>
<line x1="520.4" y1="170.3" x2="520.4" y2="251.8" stroke="#4f80c9" stroke-width="0.9"/>
<line x1="520.4" y1="254.4" x2="520.4" y2="281.4" stroke="#4f80c9" stroke-width="0.9"/>
<line x1="518.6" y1="252.6" x2="522.1999999999999" y2="250.8" stroke="#4f80c9" stroke-width="0.8"/>
<line x1="518.6" y1="255.2" x2="522.1999999999999" y2="253.4" stroke="#4f80c9" stroke-width="0.8"/>
<line x1="658.3" y1="170.3" x2="658.3" y2="281.4" stroke="#e3564d" stroke-width="0.9"/>
<line x1="518.2" y1="170.4" x2="520.4" y2="170.4" stroke="#4f80c9" stroke-width="0.8"/>
<text x="516.8" y="172.9" font-size="7" fill="#4f80c9" text-anchor="end" >300</text>
<line x1="519.1" y1="184.4" x2="520.4" y2="184.4" stroke="#4f80c9" stroke-width="0.8"/>
<line x1="518.2" y1="198.4" x2="520.4" y2="198.4" stroke="#4f80c9" stroke-width="0.8"/>
<text x="516.8" y="200.9" font-size="7" fill="#4f80c9" text-anchor="end" >200</text>
<line x1="519.1" y1="212.4" x2="520.4" y2="212.4" stroke="#4f80c9" stroke-width="0.8"/>
<line x1="518.2" y1="226.4" x2="520.4" y2="226.4" stroke="#4f80c9" stroke-width="0.8"/>
<text x="516.8" y="228.9" font-size="7" fill="#4f80c9" text-anchor="end" >100</text>
<line x1="519.1" y1="240.4" x2="520.4" y2="240.4" stroke="#4f80c9" stroke-width="0.8"/>
<line x1="518.2" y1="263.8" x2="520.4" y2="263.8" stroke="#4f80c9" stroke-width="0.8"/>
<text x="516.8" y="266.3" font-size="7" fill="#4f80c9" text-anchor="end" >0.01</text>
<line x1="519.1" y1="272.6" x2="520.4" y2="272.6" stroke="#4f80c9" stroke-width="0.8"/>
<line x1="518.2" y1="281.4" x2="520.4" y2="281.4" stroke="#4f80c9" stroke-width="0.8"/>
<text x="516.8" y="283.9" font-size="7" fill="#4f80c9" text-anchor="end" >0</text>
<line x1="658.3" y1="281.4" x2="660.5" y2="281.4" stroke="#e3564d" stroke-width="0.8"/>
<text x="661.9" y="283.9" font-size="7" fill="#e3564d" text-anchor="start" >0</text>
<line x1="658.3" y1="272.14" x2="659.6" y2="272.14" stroke="#e3564d" stroke-width="0.8"/>
<line x1="658.3" y1="262.88" x2="660.5" y2="262.88" stroke="#e3564d" stroke-width="0.8"/>
<text x="661.9" y="265.38" font-size="7" fill="#e3564d" text-anchor="start" >50</text>
<line x1="658.3" y1="253.63" x2="659.6" y2="253.63" stroke="#e3564d" stroke-width="0.8"/>
<line x1="658.3" y1="244.37" x2="660.5" y2="244.37" stroke="#e3564d" stroke-width="0.8"/>
<text x="661.9" y="246.87" font-size="7" fill="#e3564d" text-anchor="start" >100</text>
<line x1="658.3" y1="235.11" x2="659.6" y2="235.11" stroke="#e3564d" stroke-width="0.8"/>
<line x1="658.3" y1="225.85" x2="660.5" y2="225.85" stroke="#e3564d" stroke-width="0.8"/>
<text x="661.9" y="228.35" font-size="7" fill="#e3564d" text-anchor="start" >150</text>
<line x1="658.3" y1="216.6" x2="659.6" y2="216.6" stroke="#e3564d" stroke-width="0.8"/>
<line x1="658.3" y1="207.34" x2="660.5" y2="207.34" stroke="#e3564d" stroke-width="0.8"/>
<text x="661.9" y="209.84" font-size="7" fill="#e3564d" text-anchor="start" >200</text>
<line x1="658.3" y1="198.08" x2="659.6" y2="198.08" stroke="#e3564d" stroke-width="0.8"/>
<line x1="658.3" y1="188.82" x2="660.5" y2="188.82" stroke="#e3564d" stroke-width="0.8"/>
<text x="661.9" y="191.32" font-size="7" fill="#e3564d" text-anchor="start" >250</text>
<line x1="658.3" y1="179.57" x2="659.6" y2="179.57" stroke="#e3564d" stroke-width="0.8"/>
<line x1="658.3" y1="170.31" x2="660.5" y2="170.31" stroke="#e3564d" stroke-width="0.8"/>
<text x="661.9" y="172.81" font-size="7" fill="#e3564d" text-anchor="start" >300</text>
<line x1="536.4" y1="281.4" x2="536.4" y2="283.6" stroke="#5a5a5a" stroke-width="0.8"/>
<text x="536.4" y="290.6" font-size="7" fill="#2a2a2a" text-anchor="middle" >1.55</text>
<line x1="559.61" y1="281.4" x2="559.61" y2="283.6" stroke="#5a5a5a" stroke-width="0.8"/>
<text x="559.61" y="290.6" font-size="7" fill="#2a2a2a" text-anchor="middle" >1.77</text>
<line x1="577.54" y1="281.4" x2="577.54" y2="283.6" stroke="#5a5a5a" stroke-width="0.8"/>
<text x="577.54" y="290.6" font-size="7" fill="#2a2a2a" text-anchor="middle" >1.94</text>
<line x1="615.52" y1="281.4" x2="615.52" y2="283.6" stroke="#5a5a5a" stroke-width="0.8"/>
<text x="615.52" y="290.6" font-size="7" fill="#2a2a2a" text-anchor="middle" >2.3</text>
<line x1="645.06" y1="281.4" x2="645.06" y2="283.6" stroke="#5a5a5a" stroke-width="0.8"/>
<text x="645.06" y="290.6" font-size="7" fill="#2a2a2a" text-anchor="middle" >2.58</text>
<text x="589.5" y="302.5" font-size="8.25" fill="#2a2a2a" text-anchor="middle" >Pump photon energy (eV)</text>
<text transform="translate(500.3,225) rotate(-90)" font-size="8.3" fill="#4f80c9" text-anchor="middle" >Diffusion constant (cm<tspan font-size="5.6" dy="-3">2</tspan><tspan dy="3">/s)</tspan></text>
<text transform="translate(683,225) rotate(-90)" font-size="8.35" fill="#e3564d" text-anchor="middle" >Diffusion distance (nm)</text>
<polyline points="536.4,174.04 559.61,211 577.54,223.6 615.52,237.88 645.06,243.59" fill="none" stroke="#9dbfee" stroke-width="1"/>
<line x1="536.4" y1="170.12" x2="536.4" y2="177.96" stroke="#9dbfee" stroke-width="0.8"/>
<line x1="535" y1="170.12" x2="537.8" y2="170.12" stroke="#9dbfee" stroke-width="0.8"/>
<line x1="535" y1="177.96" x2="537.8" y2="177.96" stroke="#9dbfee" stroke-width="0.8"/>
<circle cx="536.4" cy="174.04" r="2.2" fill="#9dbfee"/>
<line x1="559.61" y1="209.88" x2="559.61" y2="212.12" stroke="#9dbfee" stroke-width="0.8"/>
<line x1="558.21" y1="209.88" x2="561.01" y2="209.88" stroke="#9dbfee" stroke-width="0.8"/>
<line x1="558.21" y1="212.12" x2="561.01" y2="212.12" stroke="#9dbfee" stroke-width="0.8"/>
<circle cx="559.61" cy="211" r="2.2" fill="#9dbfee"/>
<line x1="577.54" y1="221.36" x2="577.54" y2="225.84" stroke="#9dbfee" stroke-width="0.8"/>
<line x1="576.14" y1="221.36" x2="578.94" y2="221.36" stroke="#9dbfee" stroke-width="0.8"/>
<line x1="576.14" y1="225.84" x2="578.94" y2="225.84" stroke="#9dbfee" stroke-width="0.8"/>
<circle cx="577.54" cy="223.6" r="2.2" fill="#9dbfee"/>
<circle cx="615.52" cy="237.88" r="2.2" fill="#9dbfee"/>
<circle cx="645.06" cy="243.59" r="2.2" fill="#9dbfee"/>
<polyline points="536.4,201.04 559.61,216.6 577.54,226.6 615.52,234.19 645.06,238.82" fill="none" stroke="#e0584d" stroke-width="1"/>
<line x1="536.4" y1="192.9" x2="536.4" y2="209.19" stroke="#e0584d" stroke-width="0.8"/>
<line x1="535" y1="192.9" x2="537.8" y2="192.9" stroke="#e0584d" stroke-width="0.8"/>
<line x1="535" y1="209.19" x2="537.8" y2="209.19" stroke="#e0584d" stroke-width="0.8"/>
<rect x="534.5" y="199.14" width="3.8" height="3.8" fill="#fff" stroke="#e0584d" stroke-width="1"/>
<rect x="557.71" y="214.7" width="3.8" height="3.8" fill="#fff" stroke="#e0584d" stroke-width="1"/>
<rect x="575.64" y="224.7" width="3.8" height="3.8" fill="#fff" stroke="#e0584d" stroke-width="1"/>
<rect x="613.62" y="232.29" width="3.8" height="3.8" fill="#fff" stroke="#e0584d" stroke-width="1"/>
<rect x="643.16" y="236.92" width="3.8" height="3.8" fill="#fff" stroke="#e0584d" stroke-width="1"/>
<polyline points="536.4,272.95 559.61,272.95 577.54,264.86 615.52,267.85 645.06,277" fill="none" stroke="#3b70d2" stroke-width="1"/>
<line x1="536.4" y1="264.15" x2="536.4" y2="281.75" stroke="#3b70d2" stroke-width="0.8"/>
<line x1="535" y1="264.15" x2="537.8" y2="264.15" stroke="#3b70d2" stroke-width="0.8"/>
<line x1="535" y1="281.75" x2="537.8" y2="281.75" stroke="#3b70d2" stroke-width="0.8"/>
<circle cx="536.4" cy="272.95" r="2" fill="#fff" stroke="#3b70d2" stroke-width="1"/>
<line x1="559.61" y1="265.21" x2="559.61" y2="280.7" stroke="#3b70d2" stroke-width="0.8"/>
<line x1="558.21" y1="265.21" x2="561.01" y2="265.21" stroke="#3b70d2" stroke-width="0.8"/>
<line x1="558.21" y1="280.7" x2="561.01" y2="280.7" stroke="#3b70d2" stroke-width="0.8"/>
<circle cx="559.61" cy="272.95" r="2" fill="#fff" stroke="#3b70d2" stroke-width="1"/>
<line x1="577.54" y1="260.81" x2="577.54" y2="268.9" stroke="#3b70d2" stroke-width="0.8"/>
<line x1="576.14" y1="260.81" x2="578.94" y2="260.81" stroke="#3b70d2" stroke-width="0.8"/>
<line x1="576.14" y1="268.9" x2="578.94" y2="268.9" stroke="#3b70d2" stroke-width="0.8"/>
<circle cx="577.54" cy="264.86" r="2" fill="#fff" stroke="#3b70d2" stroke-width="1"/>
<line x1="615.52" y1="261.34" x2="615.52" y2="274.36" stroke="#3b70d2" stroke-width="0.8"/>
<line x1="614.12" y1="261.34" x2="616.92" y2="261.34" stroke="#3b70d2" stroke-width="0.8"/>
<line x1="614.12" y1="274.36" x2="616.92" y2="274.36" stroke="#3b70d2" stroke-width="0.8"/>
<circle cx="615.52" cy="267.85" r="2" fill="#fff" stroke="#3b70d2" stroke-width="1"/>
<line x1="645.06" y1="273.48" x2="645.06" y2="280.52" stroke="#3b70d2" stroke-width="0.8"/>
<line x1="643.66" y1="273.48" x2="646.46" y2="273.48" stroke="#3b70d2" stroke-width="0.8"/>
<line x1="643.66" y1="280.52" x2="646.46" y2="280.52" stroke="#3b70d2" stroke-width="0.8"/>
<circle cx="645.06" cy="277" r="2" fill="#fff" stroke="#3b70d2" stroke-width="1"/>
<text x="655.8" y="177.3" font-size="6.8" fill="#4f80c9" text-anchor="end" >Diffusion constant</text>
<text x="655.8" y="184.5" font-size="5.75" fill="#111" text-anchor="end" >Hot carrier transport</text>
<text x="651" y="191.3" font-size="5.8" fill="#111" text-anchor="end" >Hopping transport</text>
<text x="655.8" y="199.5" font-size="6.8" fill="#e0584d" text-anchor="end" >Diffusion distance</text>
<text x="655.8" y="206.4" font-size="5.75" fill="#111" text-anchor="end" >Hot carrier transport</text>
<line x1="590.5" y1="182.7" x2="603" y2="182.7" stroke="#9dbfee" stroke-width="1"/>
<circle cx="596.8" cy="182.7" r="2" fill="#9dbfee"/>
<line x1="590.5" y1="189.3" x2="603" y2="189.3" stroke="#3b70d2" stroke-width="1"/>
<circle cx="596.8" cy="189.3" r="1.8" fill="#fff" stroke="#3b70d2" stroke-width="1"/>
<line x1="590.5" y1="204.5" x2="603" y2="204.5" stroke="#e0584d" stroke-width="1"/>
<rect x="595.0999999999999" y="202.8" width="3.4" height="3.4" fill="#fff" stroke="#e0584d" stroke-width="0.9"/>
<text x="322.5" y="10.5" font-size="14" fill="#222" text-anchor="start" >(b)</text>
<text x="483.4" y="10.4" font-size="14" fill="#222" text-anchor="start" >(c)</text>
<text x="322.5" y="154.4" font-size="14" fill="#222" text-anchor="start" >(d)</text>
<text x="486.8" y="155.6" font-size="14" fill="#222" text-anchor="start" >(e)</text>
</svg></body></html>
